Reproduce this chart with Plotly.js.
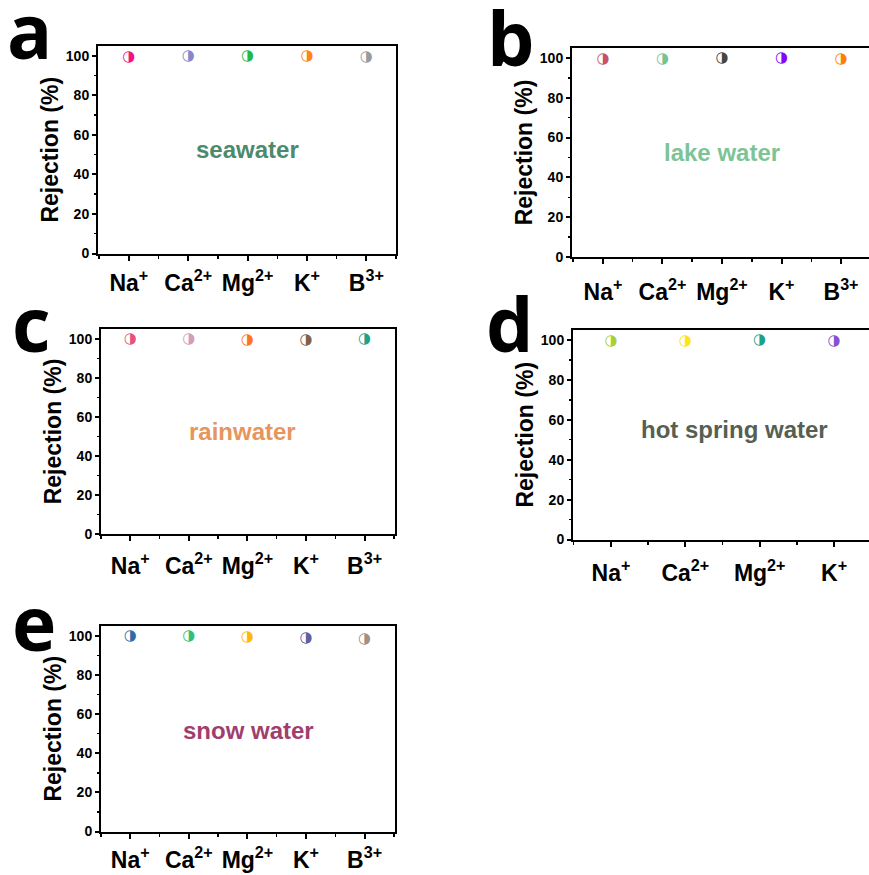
<!DOCTYPE html>
<html>
<head>
<meta charset="utf-8">
<script src="https://cdn.plot.ly/plotly-3.0.1.min.js"></script>
<style>html,body{margin:0;padding:0;background:#fff;}#chart{width:869px;height:875px;}</style>
</head>
<body>
<div id="chart"></div>
<script>
// ---- data ----
const ions5 = ['Na<sup>+</sup>', 'Ca<sup>2+</sup>', 'Mg<sup>2+</sup>', 'K<sup>+</sup>', 'B<sup>3+</sup>'];
const ions4 = ['Na<sup>+</sup>', 'Ca<sup>2+</sup>', 'Mg<sup>2+</sup>', 'K<sup>+</sup>'];
const yTicks = [0, 20, 40, 60, 80, 100];

const seawater = [99.4, 99.6, 99.6, 99.6, 99.3];
const lakeWater = [99.5, 99.5, 99.8, 99.8, 99.3];
const rainwater = [99.7, 99.8, 99.3, 99.0, 99.7];
const hotSpringWater = [99.3, 99.6, 99.9, 99.3];
const snowWater = [99.6, 99.6, 99.5, 98.9, 98.1];

const seawaterColors = ['#f5147f', '#8686cc', '#24b84a', '#ff8412', '#9a9a9a'];
const lakeColors = ['#c8506a', '#72c493', '#46463f', '#8306fc', '#ff8000'];
const rainColors = ['#e6527a', '#d29db5', '#ff7322', '#806149', '#1fa08d'];
const hotSpringColors = ['#a9cf33', '#ffe414', '#1f9e88', '#8452d0'];
const snowColors = ['#2d6aa8', '#2fc272', '#ffb808', '#5f5f9f', '#a28f82'];

const panelNames = ['seawater', 'lake water', 'rainwater', 'hot spring water', 'snow water'];
const panelNameColors = ['#4b8a6d', '#7cc496', '#e8955c', '#565f52', '#a03e6d'];
const panelLetters = ['a', 'b', 'c', 'd', 'e'];

// ---- layout geometry (pixels) ----
const W = 869, H = 875;
const panels = [
  {cats: ions5, vals: seawater, cols: seawaterColors, px: [98, 396], py: [46, 253.5], xr: [-0.52, 4.5], mirrorY: true, note: [0.503, 0.5], letter: [5, 83], lab: 3},
  {cats: ions5, vals: lakeWater, cols: lakeColors, px: [572, 869], py: [48, 257], xr: [-0.52, 4.47], mirrorY: false, note: [0.505, 0.5], letter: [485, 90], lab: 8},
  {cats: ions5, vals: rainwater, cols: rainColors, px: [101, 395], py: [329, 534], xr: [-0.5, 4.52], mirrorY: true, note: [0.48, 0.5], letter: [10, 376], lab: 5},
  {cats: ions4, vals: hotSpringWater, cols: hotSpringColors, px: [573, 869], py: [330, 539.5], xr: [-0.51, 3.47], mirrorY: false, note: [0.544, 0.527], letter: [484, 376], lab: 7},
  {cats: ions5, vals: snowWater, cols: snowColors, px: [101, 395], py: [626, 831.5], xr: [-0.5, 4.52], mirrorY: true, note: [0.5, 0.49], letter: [10, 675], lab: 2}
];

const FONT = 'Liberation Sans, Arial, sans-serif';
const traces = [];
const layout = {
  width: W, height: H,
  margin: {l: 0, r: 0, t: 0, b: 0},
  paper_bgcolor: '#ffffff', plot_bgcolor: '#ffffff',
  showlegend: false,
  font: {family: FONT, color: '#000'},
  annotations: []
};

panels.forEach((p, i) => {
  const n = i + 1;
  const xa = 'x' + (n === 1 ? '' : n), ya = 'y' + (n === 1 ? '' : n);
  const xk = 'xaxis' + (n === 1 ? '' : n), yk = 'yaxis' + (n === 1 ? '' : n);
  const idx = p.cats.map((_, j) => j);
  traces.push({
    type: 'scatter', mode: 'text', xaxis: xa, yaxis: ya,
    x: idx, y: p.vals,
    text: p.vals.map(() => '\u25D1'),
    textposition: 'middle center',
    textfont: {family: 'DejaVu Sans', size: 15, color: p.cols},
    hoverinfo: 'skip'
  });
  layout[xk] = {
    domain: [p.px[0] / W, p.px[1] / W],
    anchor: ya,
    range: p.xr,
    tickmode: 'array', tickvals: idx, ticktext: p.cats,
    ticks: 'outside', ticklen: 5, tickwidth: 2, tickcolor: '#000',
    minor: {tick0: 0.5, dtick: 1, ticks: 'outside', ticklen: 3, tickwidth: 1.5, tickcolor: '#000'},
    showline: true, linecolor: '#000', linewidth: 2, mirror: true,
    showgrid: false, zeroline: false,
    tickfont: {family: FONT, size: 23, weight: 'bold', color: '#000'},
    ticklabelstandoff: p.lab,
    fixedrange: true
  };
  layout[yk] = {
    domain: [1 - p.py[1] / H, 1 - p.py[0] / H],
    anchor: xa,
    range: [0, 105],
    tickmode: 'array', tickvals: yTicks,
    ticks: 'outside', ticklen: 4, tickwidth: 2, tickcolor: '#000',
    minor: {tick0: 10, dtick: 20, ticks: 'outside', ticklen: 2.5, tickwidth: 1.5, tickcolor: '#000'},
    showline: true, linecolor: '#000', linewidth: 2, mirror: p.mirrorY,
    showgrid: false, zeroline: false,
    tickfont: {family: FONT, size: 14, weight: 'bold', color: '#000'},
    title: {text: 'Rejection (%)', font: {family: FONT, size: 23, weight: 'bold', color: '#000'}, standoff: 1},
    fixedrange: true
  };
  layout.annotations.push({
    xref: xa + ' domain', yref: ya + ' domain',
    x: p.note[0], y: p.note[1], xanchor: 'center', yanchor: 'middle',
    text: panelNames[i], showarrow: false,
    font: {family: FONT, size: 24, weight: 'bold', color: panelNameColors[i]}
  });
  layout.annotations.push({
    xref: 'paper', yref: 'paper',
    x: p.letter[0] / W, y: 1 - p.letter[1] / H, xanchor: 'left', yanchor: 'bottom',
    text: panelLetters[i], showarrow: false,
    font: {family: 'Open Sans, Liberation Sans, sans-serif', size: 75, weight: 'bold', color: '#000'}
  });
});

Plotly.newPlot('chart', traces, layout, {displayModeBar: false, staticPlot: true});
</script>
</body>
</html>
